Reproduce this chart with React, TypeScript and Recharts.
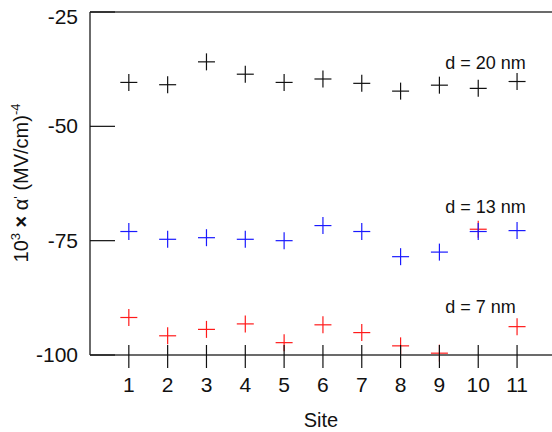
import React from "react";
import {
  ReferenceDot,
  ReferenceLine,
  Scatter,
  ScatterChart,
  XAxis,
  YAxis,
} from "recharts";

const sites = [1, 2, 3, 4, 5, 6, 7, 8, 9, 10, 11];
const d20 = [-40.4, -40.9, -35.9, -38.6, -40.4, -39.65, -40.6, -42.3, -41.0, -41.7, -40.2];
const d13 = [-73.0, -74.7, -74.35, -74.7, -75.0, -71.7, -73.0, -78.5, -77.5, -73.0, -72.8];
const d7 = [-91.8, -95.8, -94.4, -93.2, -97.3, -93.4, -95.1, -98.0, -99.6, -72.5, -93.8];
const yTicks = [-100, -75, -50, -25];
const seriesLabels = [
  { text: "d = 20 nm", x: 9.15, y: -37.5 },
  { text: "d = 13 nm", x: 9.15, y: -69.0 },
  { text: "d = 7 nm", x: 9.15, y: -90.9 },
];

const FONT = "'Liberation Sans', Arial, sans-serif";
const AXIS = "#3a3a3a";

const toPoints = (values: number[]) => sites.map((site, i) => ({ site, value: values[i] }));

const makeCross = (color: string) => (props: any) => {
  const { cx, cy } = props;
  const h = 8.5;
  return (
    <g stroke={color} strokeWidth={1.2}>
      <line x1={cx - h} y1={cy} x2={cx + h} y2={cy} />
      <line x1={cx} y1={cy - h} x2={cx} y2={cy + h} />
    </g>
  );
};

const XTick = (props: any) => {
  const { x, y, payload } = props;
  return (
    <g>
      <line x1={x} y1={y - 10} x2={x} y2={y + 13} stroke="#111" strokeWidth={1.2} />
      <text x={x} y={y + 37} textAnchor="middle" fontSize={21} fontFamily={FONT} fill="#111">
        {payload.value}
      </text>
    </g>
  );
};

const YTick = (props: any) => {
  const { x, y, payload } = props;
  const shift = payload.value === -25 ? 5 : 0;
  return (
    <g>
      <line x1={x + 12} y1={y} x2={x + 37} y2={y} stroke="#111" strokeWidth={1.2} />
      <text x={x} y={y + 7 + shift} textAnchor="end" fontSize={21} fontFamily={FONT} fill="#111">
        {payload.value}
      </text>
    </g>
  );
};

const XLabel = (props: any) => {
  const vb = props.viewBox;
  return (
    <text
      x={vb.x + vb.width / 2}
      y={vb.y + 72}
      textAnchor="middle"
      fontSize={20}
      fontFamily={FONT}
      fill="#111"
    >
      Site
    </text>
  );
};

const YLabel = () => (
  <text
    transform="translate(28,183) rotate(-90)"
    textAnchor="middle"
    fontSize={20}
    fontFamily={FONT}
    fill="#111"
  >
    10
    <tspan dy={-8} fontSize={13}>3</tspan>
    <tspan dy={8} fontWeight="bold"> × </tspan>
    <tspan>α</tspan>
    <tspan dy={-5} fontSize={13}>'</tspan>
    <tspan dy={5}> (MV/cm)</tspan>
    <tspan dy={-8} fontSize={13}>-4</tspan>
  </text>
);

export default function App() {
  return (
    <div style={{ position: "absolute", left: 0, top: 0, width: 552, height: 432, background: "#fff" }}>
      <ScatterChart width={552} height={432} margin={{ top: 12, right: 0, bottom: 17, left: 10 }}>
        <XAxis
          type="number"
          dataKey="site"
          domain={[0, 11.9]}
          ticks={sites}
          interval={0}
          tickSize={0}
          tickMargin={0}
          tick={<XTick />}
          stroke={AXIS}
          strokeWidth={1.5}
          height={60}
          label={<XLabel />}
        />
        <YAxis
          type="number"
          dataKey="value"
          domain={[-100, -25]}
          ticks={yTicks}
          interval={0}
          width={80}
          tickSize={0}
          tickMargin={12}
          tick={<YTick />}
          stroke={AXIS}
          strokeWidth={1.5}
          label={<YLabel />}
        />
        <ReferenceLine y={-25} stroke={AXIS} strokeWidth={1.5} />
        <Scatter data={toPoints(d7)} shape={makeCross("#ff1a1a")} isAnimationActive={false} />
        <Scatter data={toPoints(d13)} shape={makeCross("#1a1aff")} isAnimationActive={false} />
        <Scatter data={toPoints(d20)} shape={makeCross("#111")} isAnimationActive={false} />
        {seriesLabels.map((s) => (
          <ReferenceDot
            key={s.text}
            x={s.x}
            y={s.y}
            r={0}
            fill="none"
            stroke="none"
            label={(p: any) => (
              <text x={p.viewBox.x} y={p.viewBox.y} fontSize={18} fontFamily={FONT} fill="#111">
                {s.text}
              </text>
            )}
          />
        ))}
      </ScatterChart>
    </div>
  );
}
